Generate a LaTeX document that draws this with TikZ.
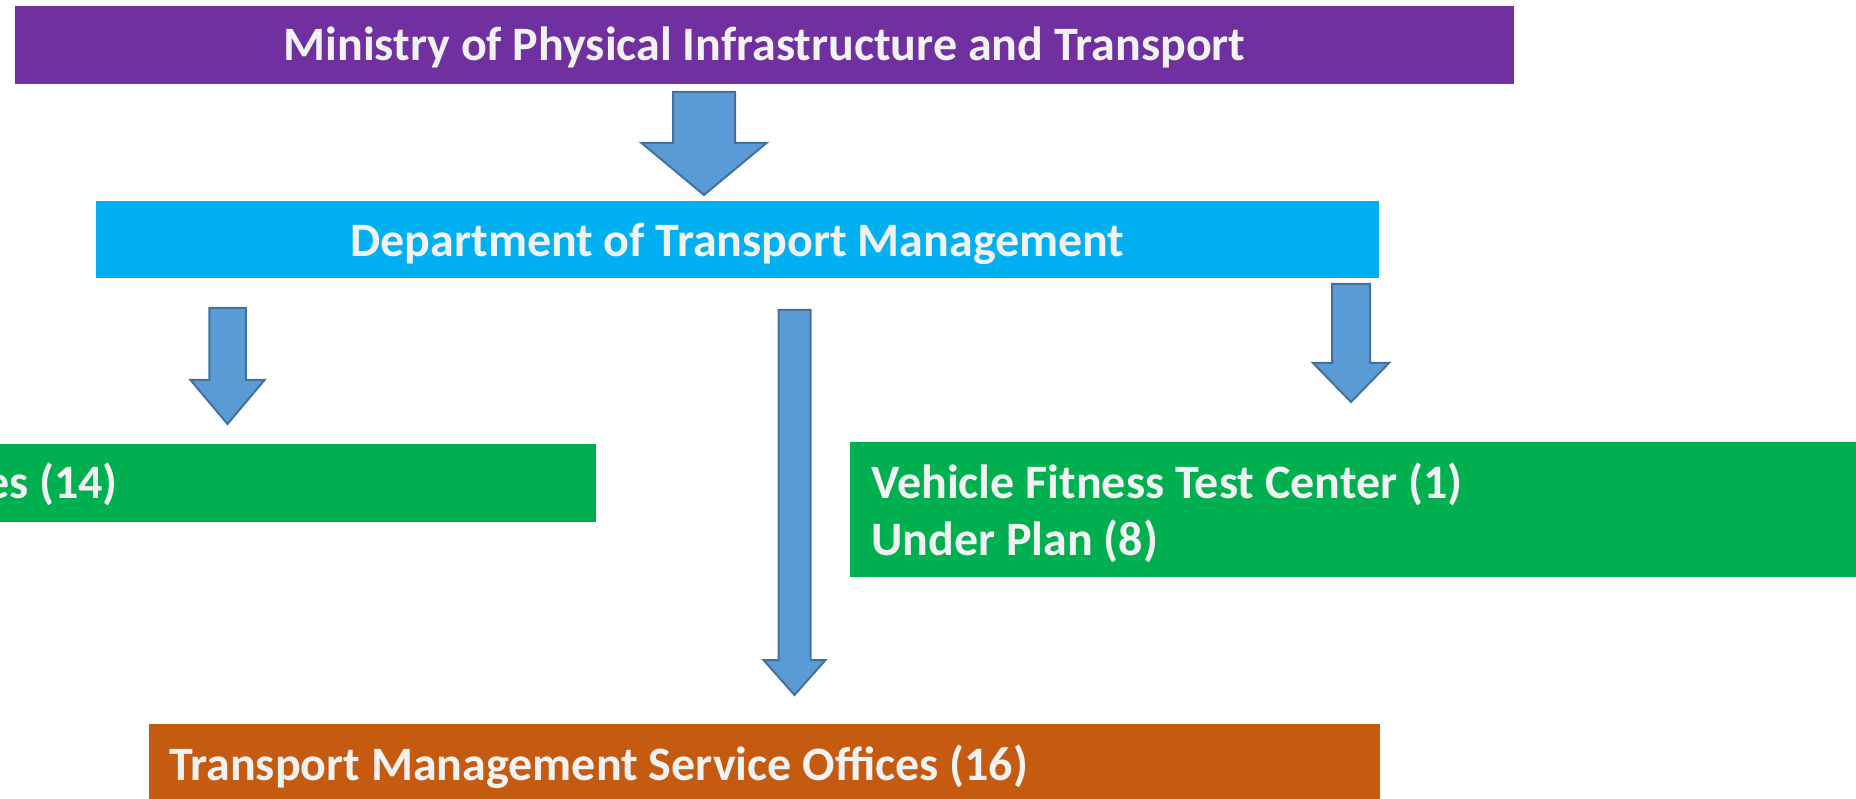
\documentclass[tikz,border=0pt]{standalone}
\usepackage{fontspec}
\setmainfont{Carlito}
\definecolor{ministrycol}{HTML}{7030A0}
\definecolor{deptcol}{HTML}{00B0F0}
\definecolor{officecol}{HTML}{00B050}
\definecolor{servicecol}{HTML}{C55A11}
\definecolor{arrowfill}{HTML}{5B9BD5}
\definecolor{arrowline}{HTML}{41719C}
\definecolor{labelcol}{HTML}{F2F2F2}

\tikzstyle{box} = [rectangle, inner sep=0pt, outer sep=0pt, draw=none]
\tikzstyle{boxtext} = [inner sep=0pt, text=labelcol, font=\bfseries\fontsize{48}{56}\selectfont]
\tikzstyle{blockarrow} = [fill=arrowfill, draw=arrowline, line width=2pt, line join=miter]

% block arrow: x, top, head base, tip, half shaft, half head
\newcommand{\blockdown}[6]{
    \draw[blockarrow] (#1-#5,#2) -- (#1+#5,#2) -- (#1+#5,#3) -- (#1+#6,#3)
        -- (#1,#4) -- (#1-#6,#3) -- (#1-#5,#3) -- cycle;
}

\begin{document}
\begin{tikzpicture}[x=1pt, y=-1pt]
\useasboundingbox (0,0) rectangle (1856,799);

% boxes
\node[box, fill=ministrycol, minimum width=1499pt, minimum height=78pt] (ministry) at (764.5,45) {};
\node[box, fill=deptcol, minimum width=1283pt, minimum height=77pt] (dept) at (737.5,239.5) {};
\node[box, fill=officecol, minimum width=636pt, minimum height=78pt] (offices) at (278,483) {};
\node[box, fill=officecol, minimum width=1026pt, minimum height=135pt] (fitness) at (1363,509.5) {};
\node[box, fill=servicecol, minimum width=1231pt, minimum height=96pt] (service) at (764.5,772) {};

% texts
\node[boxtext, anchor=base] (ministrytext) at (764.5,61) {Ministry of Physical Infrastructure and Transport};
\node[boxtext, anchor=base] (depttext) at (737.5,257) {Department of Transport Management};
\node[boxtext, anchor=base east] (officestext) at (118,498) {es (14)};
\node[boxtext, anchor=base west] (fitnesstext) at (871,498) {Vehicle Fitness Test Center (1)};
\node[boxtext, anchor=base west] (plantext) at (871,555) {Under Plan (8)};
\node[boxtext, anchor=base west] (servicetext) at (169,780) {Transport Management Service Offices (16)};

% arrows
\blockdown{704}{92}{143}{195}{31}{62.5}
\blockdown{227.5}{308}{380}{424}{18.25}{37}
\blockdown{794.5}{310}{660}{695}{16}{31}
\blockdown{1351}{284}{363}{402}{19}{38}
\end{tikzpicture}
\end{document}
